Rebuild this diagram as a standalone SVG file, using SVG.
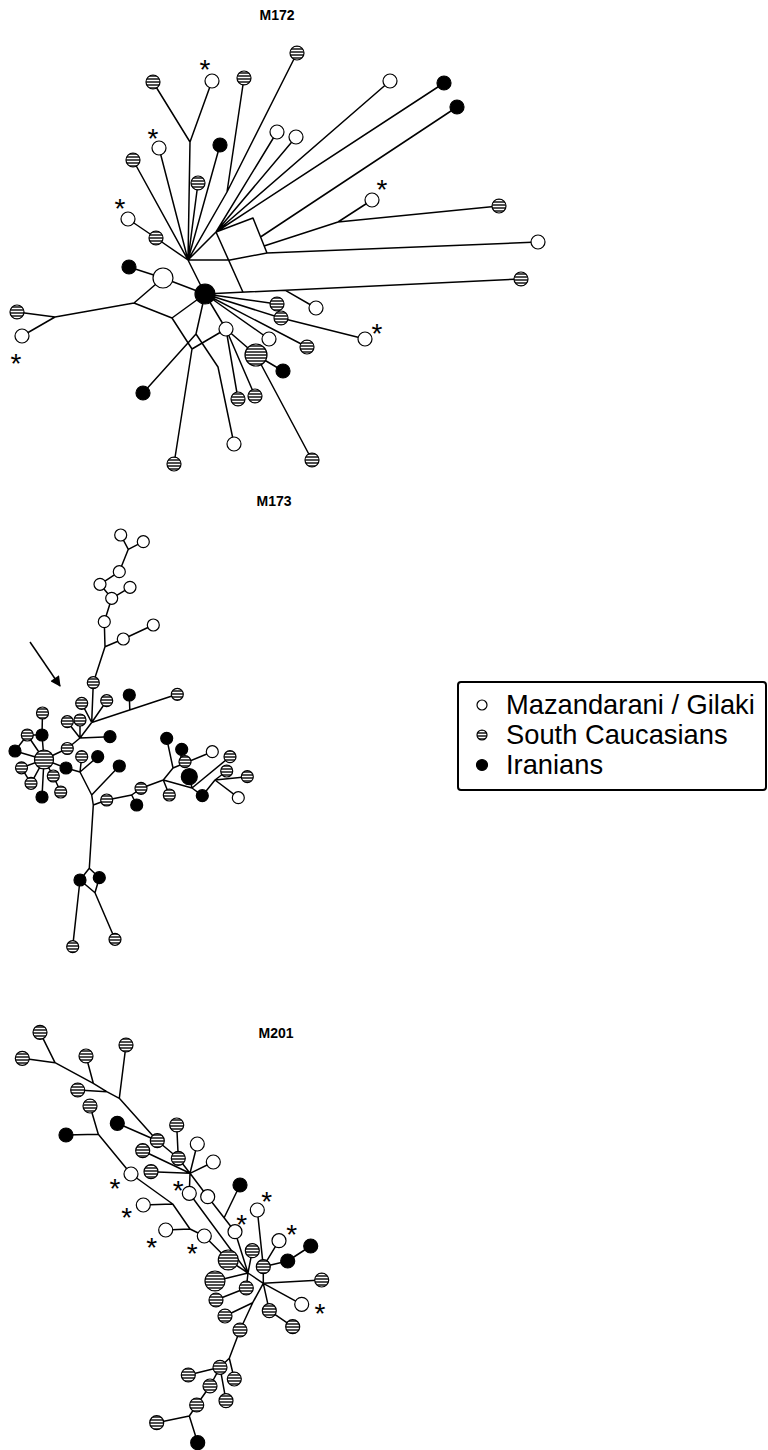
<svg xmlns="http://www.w3.org/2000/svg" width="768" height="1450" viewBox="0 0 768 1450">
<defs>
<pattern id="st" patternUnits="userSpaceOnUse" width="6" height="3"><rect width="6" height="3" fill="#4f4f4f"/><rect y="2" width="6" height="1" fill="#fff"/></pattern>
<marker id="ah" viewBox="0 0 10 10" refX="9" refY="5" markerWidth="8" markerHeight="7" orient="auto" markerUnits="strokeWidth"><path d="M0,0L10,5L0,10z" fill="#000"/></marker>
<style>
.e path{fill:none;stroke:#000;stroke-width:1.5;stroke-linejoin:round}
.w{fill:#fff;stroke:#000;stroke-width:1.2}
.s{fill:url(#st);stroke:#000;stroke-width:1.2}
.b{fill:#000;stroke:#000;stroke-width:1.2}
.t{font-family:"Liberation Sans",Arial,sans-serif;font-weight:bold;font-size:14px;text-anchor:middle}
.a{font-family:"Liberation Sans",Arial,sans-serif;font-size:28px;text-anchor:middle}
.lg{font-family:"Liberation Sans",Arial,sans-serif;font-size:27.3px}
</style>
</defs>
<rect width="768" height="1450" fill="#fff"/>
<text class="t" x="277" y="20">M172</text>
<text class="t" x="274" y="506">M173</text>
<text class="t" x="276" y="1038">M201</text>

<g id="connectors" class="e">
<!-- M172 -->
<path d="M153,82L190,142M212,81L190,142M190,142L188,260M133,160L188,260M159,148L188,260M220,145L188,260M198,183L188,260M128,219L156,238L188,260M244,78L227,192M297,53L227,192M227,192L188,260M188,260L216,232M277,132L216,232M296,137L216,232M390,81L216,232M444,83L216,232M457,107L260.5,237M216,232L253,218L267,253M188,260L230,260L267,253M216,232L243,292.2M372,200L338,222M499,206L338,222M338,222L264,246M267,253L538,242M188,260L205,294M205,294L163,278L129,267M163,278L134,303L55,317L17,312M55,317L22,336M134,303L172,318L205,294M172,318L192,349M205,294L196,334L143,393M196,334L218,367L234,444M192,349L226,329M192,349L174,464M205,294L226,329M226,329L238,399M226,329L255,396M226,329L256,355M256,355L283,371M256,355L312,460M205,294L269,339M205,294L307,347M205,294L277,304M205,294L281,318L365,339M205,294L521,279M285,290.2L316,308"/>
<!-- M173 -->
<path d="M120.7,535L128.3,549.3M143.3,541.7L128.3,549.3L119.3,571.7L100,584.3L111.7,598.3M130,587.3L111.7,598.3L104.3,621.7L105,646.7L123.3,639L153.3,625M105,646.7L93.3,682.7L91.7,722.5M81.7,703.3L91.7,722.5M106.7,700.7L91.7,722.5M177.3,694.3L91.7,722.5M129.3,695L129.8,710M91.7,722.5L80,738M67.3,721.7L80,738M80,720L80,738M110,736.7L80,738M80,738L67.3,748.5L44,759.5M44,759.5L42,735L42.5,713M42,735L27.3,735L15,751L44,759.5M27.3,735L44,759.5M44,759.5L21.5,767.8L31,783.3L44,759.5M44,759.5L42,797M44,759.5L53.3,776L60.7,792M44,759.5L66,768L80,772L91.7,795L93.3,805M81.7,756.7L80,772M97.7,756.7L80,772M119.3,766L91.7,795M93.3,805L106.7,800L131.7,795L141,788.3L163.3,780M136.7,805L131.7,795M163.3,780L169.3,795M163.3,780L173,768L212.3,751.7M166.7,738.3L173,768M181.7,749.3L180,765M163.3,780L192,788L202.3,795.7M189.3,776.7L192,788M192,788L230,756.7M202.3,795.7L215,780L247.3,776.7M215,780L238.3,797.7M215,780L226.7,771M93.3,805L89.3,868.3L80,880L95,892.7L99.3,877.7L89.3,868.3M80,880L72.7,946.7M95,892.7L115,939.3"/>
<path d="M30,642L60,686" stroke-width="2.2" marker-end="url(#ah)"/>
<!-- M201 -->
<path d="M40,1032.3L55,1062.7M22.3,1058.3L55,1062.7L93.3,1083.3L106.7,1091.7L119.3,1098.3L157.3,1140.7M86,1056L93.3,1083.3M77.7,1090L106.7,1091.7M126,1045L119.3,1098.3M117.3,1123.3L157.3,1140.7L178.3,1158.3M176.7,1125L178.3,1158.3L190,1173.3M197.3,1144L190,1173.3M213.3,1162L190,1173.3M142.7,1150.7L190,1173.3M151,1171.7L190,1173.3M90,1106L98.3,1134.3M66,1135L98.3,1134.3L131,1174L172.7,1204L190,1229L204.3,1236L228.3,1260L248,1273M143.3,1205L172.7,1204M165.7,1230L190,1229M190,1173.3L189.3,1193.3L248,1273M190,1173.3L207.7,1196.7L235,1231.7L248,1273M240,1185L224,1218M257.3,1210L263.3,1266.7M279,1240.7L263.3,1266.7L287.7,1261L310.7,1246M263.3,1266.7L263.3,1283.3M252.3,1250.7L248,1273M215,1281L248,1273M246.3,1288L248,1273M216,1300L246.3,1288M248,1273L263.3,1283.3L321.7,1280M263.3,1283.3L301.7,1304.3M263.3,1283.3L269.3,1310.7L292.7,1326.7M263.3,1283.3L252.7,1302.7L225,1316M252.7,1302.7L240,1330L229.3,1358.3L234.3,1379M229.3,1358.3L220,1367.3L188.3,1375M220,1367.3L210,1386L196.7,1405L189.3,1416L156.7,1422.7M220,1367.3L226,1400.7M189.3,1416L197.7,1442.7"/>
</g>

<g id="m172-nodes">
<g id="m172-w1"><circle class="w" cx="212" cy="81" r="7"/></g>
<g id="m172-w2"><circle class="w" cx="390" cy="81" r="7"/></g>
<g id="m172-w3"><circle class="w" cx="277" cy="132" r="7"/></g>
<g id="m172-w4"><circle class="w" cx="296" cy="137" r="7"/></g>
<g id="m172-w5"><circle class="w" cx="159" cy="148" r="7"/></g>
<g id="m172-w6"><circle class="w" cx="128" cy="219" r="7"/></g>
<g id="m172-w7"><circle class="w" cx="372" cy="200" r="7"/></g>
<g id="m172-w8"><circle class="w" cx="538" cy="242" r="7"/></g>
<g id="m172-w9"><circle class="w" cx="316" cy="308" r="7"/></g>
<g id="m172-w10"><circle class="w" cx="365" cy="339" r="7"/></g>
<g id="m172-w11"><circle class="w" cx="269" cy="339" r="7"/></g>
<g id="m172-w12"><circle class="w" cx="226" cy="329" r="7"/></g>
<g id="m172-w13"><circle class="w" cx="234" cy="444" r="7"/></g>
<g id="m172-w14"><circle class="w" cx="22" cy="336" r="7"/></g>
<g id="m172-w15"><circle class="w" cx="163" cy="278" r="10"/></g>
<g id="m172-s1"><circle class="s" cx="153" cy="82" r="7"/></g>
<g id="m172-s2"><circle class="s" cx="244" cy="78" r="7"/></g>
<g id="m172-s3"><circle class="s" cx="297" cy="53" r="7"/></g>
<g id="m172-s4"><circle class="s" cx="133" cy="160" r="7"/></g>
<g id="m172-s5"><circle class="s" cx="198" cy="183" r="7"/></g>
<g id="m172-s6"><circle class="s" cx="156" cy="238" r="7"/></g>
<g id="m172-s7"><circle class="s" cx="499" cy="206" r="7"/></g>
<g id="m172-s8"><circle class="s" cx="521" cy="279" r="7"/></g>
<g id="m172-s9"><circle class="s" cx="277" cy="304" r="7"/></g>
<g id="m172-s10"><circle class="s" cx="281" cy="318" r="7"/></g>
<g id="m172-s11"><circle class="s" cx="307" cy="347" r="7"/></g>
<g id="m172-s12"><circle class="s" cx="256" cy="355" r="11"/></g>
<g id="m172-s13"><circle class="s" cx="238" cy="399" r="7"/></g>
<g id="m172-s14"><circle class="s" cx="255" cy="396" r="7"/></g>
<g id="m172-s15"><circle class="s" cx="312" cy="460" r="7"/></g>
<g id="m172-s16"><circle class="s" cx="174" cy="464" r="7"/></g>
<g id="m172-s17"><circle class="s" cx="17" cy="312" r="7"/></g>
<g id="m172-b1"><circle class="b" cx="444" cy="83" r="7"/></g>
<g id="m172-b2"><circle class="b" cx="457" cy="107" r="7"/></g>
<g id="m172-b3"><circle class="b" cx="220" cy="145" r="7"/></g>
<g id="m172-b4"><circle class="b" cx="129" cy="267" r="7"/></g>
<g id="m172-b5"><circle class="b" cx="205" cy="294" r="10"/></g>
<g id="m172-b6"><circle class="b" cx="283" cy="371" r="7"/></g>
<g id="m172-b7"><circle class="b" cx="143" cy="393" r="7"/></g>
</g>
<g id="m172-marks">
<text class="a" x="205" y="79">*</text>
<text class="a" x="153" y="148">*</text>
<text class="a" x="120" y="218">*</text>
<text class="a" x="382" y="199">*</text>
<text class="a" x="377" y="343">*</text>
<text class="a" x="16" y="373">*</text>
</g>

<g id="m173-nodes">
<g id="m173-w1"><circle class="w" cx="120.7" cy="535" r="6"/></g>
<g id="m173-w2"><circle class="w" cx="143.3" cy="541.7" r="6"/></g>
<g id="m173-w3"><circle class="w" cx="119.3" cy="571.7" r="6"/></g>
<g id="m173-w4"><circle class="w" cx="100" cy="584.3" r="6"/></g>
<g id="m173-w5"><circle class="w" cx="130" cy="587.3" r="6"/></g>
<g id="m173-w6"><circle class="w" cx="111.7" cy="598.3" r="6"/></g>
<g id="m173-w7"><circle class="w" cx="104.3" cy="621.7" r="6"/></g>
<g id="m173-w8"><circle class="w" cx="123.3" cy="639" r="6"/></g>
<g id="m173-w9"><circle class="w" cx="153.3" cy="625" r="6"/></g>
<g id="m173-w10"><circle class="w" cx="212.3" cy="751.7" r="6"/></g>
<g id="m173-w11"><circle class="w" cx="238.3" cy="797.7" r="6"/></g>
<g id="m173-s1"><circle class="s" cx="93.3" cy="682.7" r="6"/></g>
<g id="m173-s2"><circle class="s" cx="81.7" cy="703.3" r="6"/></g>
<g id="m173-s3"><circle class="s" cx="106.7" cy="700.7" r="6"/></g>
<g id="m173-s4"><circle class="s" cx="177.3" cy="694.3" r="6"/></g>
<g id="m173-s5"><circle class="s" cx="67.3" cy="721.7" r="6"/></g>
<g id="m173-s6"><circle class="s" cx="80" cy="720" r="6"/></g>
<g id="m173-s7"><circle class="s" cx="42.5" cy="713" r="6"/></g>
<g id="m173-s8"><circle class="s" cx="27.3" cy="735" r="6"/></g>
<g id="m173-s9"><circle class="s" cx="67.3" cy="748.5" r="6"/></g>
<g id="m173-s10"><circle class="s" cx="44" cy="759.5" r="9.5"/></g>
<g id="m173-s11"><circle class="s" cx="21.5" cy="767.8" r="6"/></g>
<g id="m173-s12"><circle class="s" cx="31" cy="783.3" r="6"/></g>
<g id="m173-s13"><circle class="s" cx="53.3" cy="776" r="6"/></g>
<g id="m173-s14"><circle class="s" cx="60.7" cy="792" r="6"/></g>
<g id="m173-s15"><circle class="s" cx="81.7" cy="756.7" r="6"/></g>
<g id="m173-s16"><circle class="s" cx="106.7" cy="800" r="6"/></g>
<g id="m173-s17"><circle class="s" cx="141" cy="788.3" r="6"/></g>
<g id="m173-s18"><circle class="s" cx="169.3" cy="795" r="6"/></g>
<g id="m173-s19"><circle class="s" cx="185" cy="761.7" r="6"/></g>
<g id="m173-s20"><circle class="s" cx="226.7" cy="771" r="6"/></g>
<g id="m173-s21"><circle class="s" cx="230" cy="756.7" r="6"/></g>
<g id="m173-s22"><circle class="s" cx="247.3" cy="776.7" r="6"/></g>
<g id="m173-s23"><circle class="s" cx="72.7" cy="946.7" r="6"/></g>
<g id="m173-s24"><circle class="s" cx="115" cy="939.3" r="6"/></g>
<g id="m173-b1"><circle class="b" cx="129.3" cy="695" r="6"/></g>
<g id="m173-b2"><circle class="b" cx="110" cy="736.7" r="6"/></g>
<g id="m173-b3"><circle class="b" cx="42" cy="735" r="6"/></g>
<g id="m173-b4"><circle class="b" cx="15" cy="751" r="6"/></g>
<g id="m173-b5"><circle class="b" cx="42" cy="797" r="6"/></g>
<g id="m173-b6"><circle class="b" cx="66" cy="768" r="6"/></g>
<g id="m173-b7"><circle class="b" cx="97.7" cy="756.7" r="6"/></g>
<g id="m173-b8"><circle class="b" cx="119.3" cy="766" r="6"/></g>
<g id="m173-b9"><circle class="b" cx="136.7" cy="805" r="6"/></g>
<g id="m173-b10"><circle class="b" cx="166.7" cy="738.3" r="6"/></g>
<g id="m173-b11"><circle class="b" cx="181.7" cy="749.3" r="6"/></g>
<g id="m173-b12"><circle class="b" cx="189.3" cy="776.7" r="8"/></g>
<g id="m173-b13"><circle class="b" cx="202.3" cy="795.7" r="6"/></g>
<g id="m173-b14"><circle class="b" cx="80" cy="880" r="6"/></g>
<g id="m173-b15"><circle class="b" cx="99.3" cy="877.7" r="6"/></g>
</g>

<g id="legend">
<rect x="458" y="682" width="308" height="108" rx="3" fill="#fff" stroke="#000" stroke-width="2"/>
<circle class="w" cx="482" cy="705" r="5"/>
<circle class="s" cx="482" cy="735" r="5"/>
<circle class="b" cx="482" cy="765" r="5.5"/>
<text class="lg" x="506" y="714">Mazandarani / Gilaki</text>
<text class="lg" x="506" y="744">South Caucasians</text>
<text class="lg" x="506" y="774">Iranians</text>
</g>

<g id="m201-nodes">
<g id="m201-w1"><circle class="w" cx="197.3" cy="1144" r="7"/></g>
<g id="m201-w2"><circle class="w" cx="213.3" cy="1162" r="7"/></g>
<g id="m201-w3"><circle class="w" cx="131" cy="1174" r="7"/></g>
<g id="m201-w4"><circle class="w" cx="189.3" cy="1193.3" r="7"/></g>
<g id="m201-w5"><circle class="w" cx="207.7" cy="1196.7" r="7"/></g>
<g id="m201-w6"><circle class="w" cx="257.3" cy="1210" r="7"/></g>
<g id="m201-w7"><circle class="w" cx="143.3" cy="1205" r="7"/></g>
<g id="m201-w8"><circle class="w" cx="235" cy="1231.7" r="7"/></g>
<g id="m201-w9"><circle class="w" cx="165.7" cy="1230" r="7"/></g>
<g id="m201-w10"><circle class="w" cx="204.3" cy="1236" r="7"/></g>
<g id="m201-w11"><circle class="w" cx="279" cy="1240.7" r="7"/></g>
<g id="m201-w12"><circle class="w" cx="301.7" cy="1304.3" r="7"/></g>
<g id="m201-s1"><circle class="s" cx="40" cy="1032.3" r="7"/></g>
<g id="m201-s2"><circle class="s" cx="22.3" cy="1058.3" r="7"/></g>
<g id="m201-s3"><circle class="s" cx="86" cy="1056" r="7"/></g>
<g id="m201-s4"><circle class="s" cx="126" cy="1045" r="7"/></g>
<g id="m201-s5"><circle class="s" cx="77.7" cy="1090" r="7"/></g>
<g id="m201-s6"><circle class="s" cx="90" cy="1106" r="7"/></g>
<g id="m201-s7"><circle class="s" cx="157.3" cy="1140.7" r="7"/></g>
<g id="m201-s8"><circle class="s" cx="176.7" cy="1125" r="7"/></g>
<g id="m201-s9"><circle class="s" cx="178.3" cy="1158.3" r="7"/></g>
<g id="m201-s10"><circle class="s" cx="142.7" cy="1150.7" r="7"/></g>
<g id="m201-s11"><circle class="s" cx="151" cy="1171.7" r="7"/></g>
<g id="m201-s12"><circle class="s" cx="252.3" cy="1250.7" r="7"/></g>
<g id="m201-s13"><circle class="s" cx="228.3" cy="1260" r="10"/></g>
<g id="m201-s14"><circle class="s" cx="215" cy="1281" r="10"/></g>
<g id="m201-s15"><circle class="s" cx="263.3" cy="1266.7" r="7"/></g>
<g id="m201-s16"><circle class="s" cx="321.7" cy="1280" r="7"/></g>
<g id="m201-s17"><circle class="s" cx="246.3" cy="1288" r="7"/></g>
<g id="m201-s18"><circle class="s" cx="216" cy="1300" r="7"/></g>
<g id="m201-s19"><circle class="s" cx="225" cy="1316" r="7"/></g>
<g id="m201-s20"><circle class="s" cx="269.3" cy="1310.7" r="7"/></g>
<g id="m201-s21"><circle class="s" cx="292.7" cy="1326.7" r="7"/></g>
<g id="m201-s22"><circle class="s" cx="240" cy="1330" r="7"/></g>
<g id="m201-s23"><circle class="s" cx="220" cy="1367.3" r="7"/></g>
<g id="m201-s24"><circle class="s" cx="188.3" cy="1375" r="7"/></g>
<g id="m201-s25"><circle class="s" cx="234.3" cy="1379" r="7"/></g>
<g id="m201-s26"><circle class="s" cx="210" cy="1386" r="7"/></g>
<g id="m201-s27"><circle class="s" cx="226" cy="1400.7" r="7"/></g>
<g id="m201-s28"><circle class="s" cx="196.7" cy="1405" r="7"/></g>
<g id="m201-s29"><circle class="s" cx="156.7" cy="1422.7" r="7"/></g>
<g id="m201-b1"><circle class="b" cx="66" cy="1135" r="7"/></g>
<g id="m201-b2"><circle class="b" cx="117.3" cy="1123.3" r="7"/></g>
<g id="m201-b3"><circle class="b" cx="240" cy="1185" r="7"/></g>
<g id="m201-b4"><circle class="b" cx="310.7" cy="1246" r="7"/></g>
<g id="m201-b5"><circle class="b" cx="287.7" cy="1261" r="7"/></g>
<g id="m201-b6"><circle class="b" cx="197.7" cy="1442.7" r="7"/></g>
</g>
<g id="m201-marks">
<text class="a" x="115" y="1197.7">*</text>
<text class="a" x="178.3" y="1200">*</text>
<text class="a" x="126.7" y="1227">*</text>
<text class="a" x="151.7" y="1256.7">*</text>
<text class="a" x="192.3" y="1262.7">*</text>
<text class="a" x="241.7" y="1233.7">*</text>
<text class="a" x="266.7" y="1211">*</text>
<text class="a" x="291.7" y="1244.3">*</text>
<text class="a" x="320" y="1322.7">*</text>
</g>
</svg>
